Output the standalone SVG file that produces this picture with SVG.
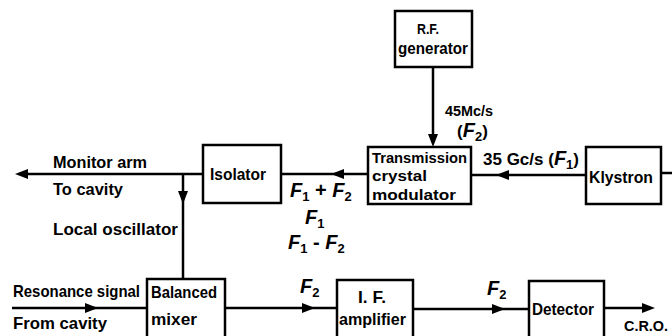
<svg xmlns="http://www.w3.org/2000/svg" xmlns:xlink="http://www.w3.org/1999/xlink" width="672" height="336" viewBox="0 0 672 336">
<style>
.box{fill:#fff;stroke:#000;stroke-width:2.5}
.ln{fill:none;stroke:#000;stroke-width:2.5}
.t{font-family:"Liberation Sans",Arial,sans-serif;font-weight:bold;font-size:17px;fill:#000}
.s{font-size:15px}
.f{font-family:"Liberation Sans",Arial,sans-serif;font-weight:bold;font-style:italic;font-size:20px;fill:#000}
.sub{font-size:13px;font-style:normal}
</style>
<defs>
<path id="ah" d="M0,0 L-13,-5 L-13,5 Z" fill="#000"/>
</defs>
<rect width="672" height="336" fill="#fff"/>
<g id="connectors">
<line class="ln" x1="433" y1="67" x2="433" y2="140"/>
<use xlink:href="#ah" transform="translate(433,147) rotate(90)"/>
<line class="ln" x1="586" y1="175" x2="471" y2="175"/>
<use xlink:href="#ah" transform="translate(496,175) rotate(180)"/>
<line class="ln" x1="661" y1="173" x2="672" y2="173"/>
<line class="ln" x1="368" y1="174" x2="281" y2="174"/>
<use xlink:href="#ah" transform="translate(331,174) rotate(180)"/>
<line class="ln" x1="203" y1="174" x2="22" y2="174"/>
<use xlink:href="#ah" transform="translate(15,174) rotate(180)"/>
<line class="ln" x1="183" y1="174" x2="183" y2="279"/>
<use xlink:href="#ah" transform="translate(183,204) rotate(90)"/>
<line class="ln" x1="12" y1="308" x2="147" y2="308"/>
<use xlink:href="#ah" transform="translate(98,308)"/>
<line class="ln" x1="225" y1="308" x2="337" y2="308"/>
<use xlink:href="#ah" transform="translate(315,308)"/>
<line class="ln" x1="413" y1="309" x2="529" y2="309"/>
<use xlink:href="#ah" transform="translate(505,309)"/>
<line class="ln" x1="604" y1="308" x2="648" y2="308"/>
<use xlink:href="#ah" transform="translate(655,308)"/>
</g>
<g id="rf-generator">
<rect class="box" x="395" y="11" width="77" height="56"/>
<text class="t s" x="417" y="34" textLength="22" lengthAdjust="spacingAndGlyphs">R.F.</text>
<text class="t" x="398" y="54" textLength="70" lengthAdjust="spacingAndGlyphs">generator</text>
</g>
<g id="transmission-modulator">
<rect class="box" x="368" y="147" width="103" height="57"/>
<text class="t s" x="372" y="163" textLength="95" lengthAdjust="spacingAndGlyphs">Transmission</text>
<text class="t s" x="372" y="181" textLength="55" lengthAdjust="spacingAndGlyphs">crystal</text>
<text class="t s" x="372" y="200" textLength="84" lengthAdjust="spacingAndGlyphs">modulator</text>
</g>
<g id="klystron">
<rect class="box" x="586" y="147" width="75" height="57"/>
<text class="t" x="589" y="183" textLength="64" lengthAdjust="spacingAndGlyphs">Klystron</text>
</g>
<g id="isolator">
<rect class="box" x="203" y="145" width="78" height="58"/>
<text class="t" x="210" y="180" textLength="56" lengthAdjust="spacingAndGlyphs">Isolator</text>
</g>
<g id="balanced-mixer">
<rect class="box" x="147" y="279" width="78" height="62"/>
<text class="t" x="151" y="298" textLength="66" lengthAdjust="spacingAndGlyphs">Balanced</text>
<text class="t" x="151" y="325" textLength="46" lengthAdjust="spacingAndGlyphs">mixer</text>
</g>
<g id="if-amplifier">
<rect class="box" x="337" y="280" width="76" height="61"/>
<text class="t" x="358" y="303" textLength="28" lengthAdjust="spacingAndGlyphs">I. F.</text>
<text class="t" x="339" y="325" textLength="67" lengthAdjust="spacingAndGlyphs">amplifier</text>
</g>
<g id="detector">
<rect class="box" x="529" y="281" width="75" height="60"/>
<text class="t" x="532" y="315" textLength="62" lengthAdjust="spacingAndGlyphs">Detector</text>
</g>
<g id="labels">
<text class="t s" x="445" y="116" textLength="48" lengthAdjust="spacingAndGlyphs">45Mc/s</text>
<text class="t" x="457" y="137">(<tspan class="f">F</tspan><tspan class="sub" dy="4">2</tspan><tspan dy="-4">)</tspan></text>
<text class="t" x="483" y="165">35 Gc/s (<tspan class="f">F</tspan><tspan class="sub" dy="4">1</tspan><tspan dy="-4">)</tspan></text>
<text class="f" x="290" y="197">F<tspan class="sub" dy="4">1</tspan><tspan dy="-4" style="font-style:normal"> + </tspan>F<tspan class="sub" dy="4">2</tspan></text>
<text class="f" x="305" y="224">F<tspan class="sub" dy="4">1</tspan></text>
<text class="f" x="288" y="249">F<tspan class="sub" dy="4">1</tspan><tspan dy="-4" style="font-style:normal"> - </tspan>F<tspan class="sub" dy="4">2</tspan></text>
<text class="t" x="53" y="168" textLength="94" lengthAdjust="spacingAndGlyphs">Monitor arm</text>
<text class="t" x="53" y="195" textLength="70" lengthAdjust="spacingAndGlyphs">To cavity</text>
<text class="t" x="53" y="235" textLength="125" lengthAdjust="spacingAndGlyphs">Local oscillator</text>
<text class="t" x="13" y="297" textLength="127" lengthAdjust="spacingAndGlyphs">Resonance signal</text>
<text class="t" x="13" y="329" textLength="94" lengthAdjust="spacingAndGlyphs">From cavity</text>
<text class="f" x="300" y="293">F<tspan class="sub" dy="4">2</tspan></text>
<text class="f" x="487" y="295">F<tspan class="sub" dy="4">2</tspan></text>
<text class="t s" x="624" y="331" textLength="44" lengthAdjust="spacingAndGlyphs">C.R.O.</text>
</g>
</svg>
